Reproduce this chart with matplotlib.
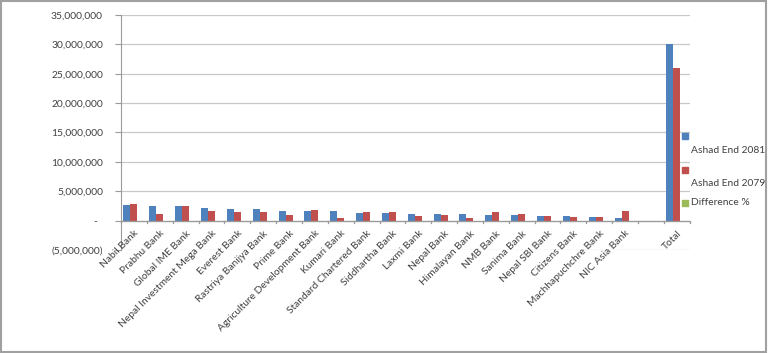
import numpy as np
import matplotlib
matplotlib.use("Agg")
import matplotlib.pyplot as plt
from matplotlib.patches import Rectangle
from matplotlib.ticker import FuncFormatter

plt.rcParams['font.family'] = ['Lato', 'DejaVu Sans']

banks = ["Nabil Bank", "Prabhu Bank", "Global IME Bank", "Nepal Investment Mega Bank",
         "Everest Bank", "Rastriya Banijya Bank", "Prime Bank", "Agriculture Development Bank",
         "Kumari Bank", "Standard Chartered Bank", "Siddhartha Bank", "Laxmi Bank",
         "Nepal Bank", "Himalayan Bank", "NMB Bank", "Sanima Bank", "Nepal SBI Bank",
         "Citizens Bank", "Machhapuchchre Bank", "NIC Asia Bank", "", "Total"]
ashad_2081 = [2.7e6, 2.5e6, 2.5e6, 2.1e6, 1.9e6, 1.9e6, 1.6e6, 1.6e6, 1.6e6, 1.3e6, 1.3e6,
              1.2e6, 1.2e6, 1.2e6, 1.0e6, 0.9e6, 0.8e6, 0.7e6, 0.6e6, 0.5e6, 0, 30.0e6]
ashad_2079 = [2.9e6, 1.1e6, 2.5e6, 1.6e6, 1.4e6, 1.5e6, 0.9e6, 1.8e6, 0.4e6, 1.4e6, 1.4e6,
              0.7e6, 0.9e6, 0.4e6, 1.4e6, 1.1e6, 0.8e6, 0.6e6, 0.6e6, 1.7e6, 0, 25.9e6]
diff_pct = [-7, 127, 0, 31, 36, 27, 78, -11, 300, -7, -7, 71, 33, 200, -29, -18, 0, 17, 0, -71, 0, 16]

blue, red, green = "#4F81BD", "#C0504D", "#9BBB59"
txt = "#404040"
fs = 7.4

fig = plt.figure(figsize=(7.68, 3.53), dpi=100)
ax = fig.add_axes([0.1576, 0.292, 0.7404, 0.6655])

x = np.arange(len(banks))
w = 0.27
ax.bar(x - w, ashad_2081, w, color=blue, label="Ashad End 2081")
ax.bar(x, ashad_2079, w, color=red, label="Ashad End 2079")
ax.bar(x + w, diff_pct, w, color=green, label="Difference %")

ax.set_xlim(-0.5, len(banks) - 0.5)
ax.set_ylim(-5e6, 35e6)
ax.set_yticks(np.arange(-5e6, 35e6 + 1, 5e6))


def fmt(v, pos):
    if abs(v) < 1:
        return "-  "
    if v < 0:
        return "({:,.0f})".format(-v)
    return "{:,.0f}".format(v)


ax.yaxis.set_major_formatter(FuncFormatter(fmt))
ax.grid(axis="y", color="#c8c8c8", linewidth=0.9)
ax.set_axisbelow(True)
for s in ["top", "right", "bottom"]:
    ax.spines[s].set_visible(False)
ax.spines["left"].set_color("#9a9a9a")
ax.axhline(0, color="#9a9a9a", linewidth=0.9, zorder=1)
ax.tick_params(axis="y", labelsize=fs, colors="#9a9a9a", labelcolor=txt, length=4, pad=9)

ax.set_xticks([])
for b in np.arange(len(banks) + 1) - 0.5:
    ax.plot([b, b], [0, -0.5e6], color="#9a9a9a", linewidth=0.9, clip_on=False)
for xi, name in zip(x, banks):
    ax.annotate(name, xy=(xi, 0), xytext=(0, -6), textcoords="offset points",
                rotation=45, ha="right", va="top", rotation_mode="anchor",
                fontsize=fs, color=txt)

# legend, drawn as in the spreadsheet export
leg = [(blue, "Ashad End 2081", 0.614, 0.574), (red, "Ashad End 2079", 0.519, 0.481),
       (green, "Difference %", 0.425, 0.425)]
for c, lab, ym, yt in leg:
    fig.patches.append(Rectangle((0.888, ym - 0.009), 0.008, 0.018, color=c,
                                 transform=fig.transFigure))
    fig.text(0.9, yt, lab, fontsize=fs, color=txt, va="center")

fig.patches.append(Rectangle((0.001, 0.002), 0.997, 0.995, fill=False, edgecolor="#a0a0a0",
                             linewidth=1.5, transform=fig.transFigure))
fig.savefig("out.png", dpi=100)
